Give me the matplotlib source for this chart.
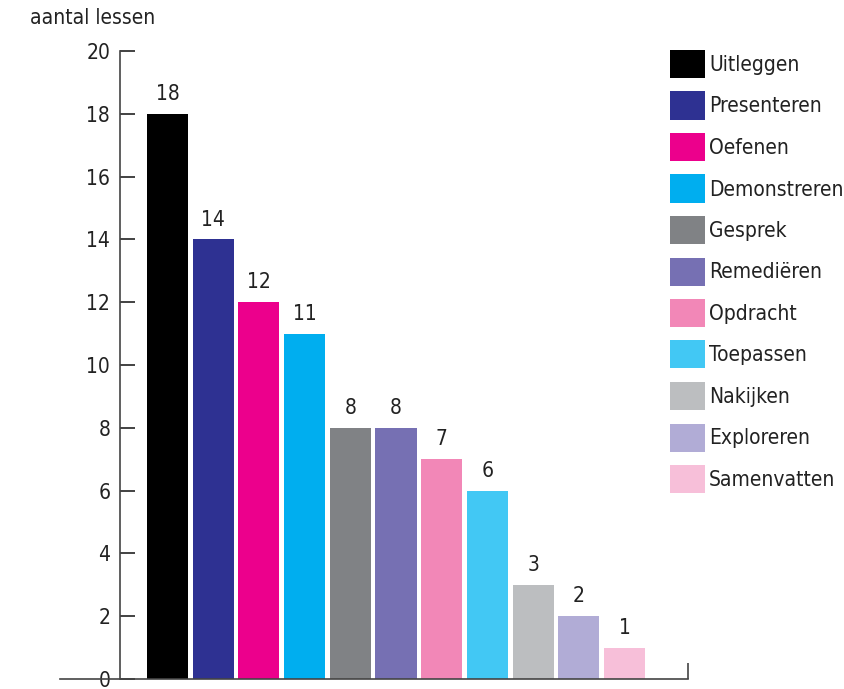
import matplotlib.pyplot as plt
from matplotlib.patches import Rectangle

categories = ['Uitleggen', 'Presenteren', 'Oefenen', 'Demonstreren', 'Gesprek',
              'Remediëren', 'Opdracht', 'Toepassen', 'Nakijken', 'Exploreren',
              'Samenvatten']
values = [18, 14, 12, 11, 8, 8, 7, 6, 3, 2, 1]
colors = ['#000000', '#2e3192', '#ec008c', '#00aeef', '#808285', '#7670b3',
          '#f287b7', '#42c8f4', '#bcbec0', '#b1acd6', '#f7bfd9']
yticks = list(range(0, 21, 2))

plt.rcParams['font.family'] = 'DejaVu Sans'
plt.rcParams['font.stretch'] = 'condensed'
fs = 15
txt_col = '#222222'

W, H = 845, 689
fig = plt.figure(figsize=(W / 100, H / 100), dpi=100)
ax = fig.add_axes([60 / W, 10 / H, 628 / W, 628 / H])

x = list(range(len(values)))
ax.bar(x, values, width=0.9, color=colors)
for xi, v in zip(x, values):
    ax.annotate(str(v), (xi, v), xytext=(0, 7), textcoords='offset points',
                ha='center', va='bottom', fontsize=fs, color=txt_col)

ax.set_xlim(-2.352, 11.39)
ax.set_ylim(0, 20)
ax.set_yticks(yticks)
ax.set_xticks([])

axis_col = '#444444'
for s in ['top', 'right']:
    ax.spines[s].set_visible(False)
ax.spines['left'].set_position(('data', -1.04))
ax.spines['left'].set_color(axis_col)
ax.spines['left'].set_linewidth(1.2)
ax.spines['bottom'].set_color(axis_col)
ax.spines['bottom'].set_linewidth(1.2)
ax.tick_params(axis='y', direction='in', length=11, width=1.2, color='#222222',
               pad=7, labelsize=fs, labelcolor=txt_col)

# small end tick at the right of the baseline
xr = ax.get_xlim()[1]
ax.vlines(xr, 0, 0.5, color=axis_col, lw=1.2, clip_on=False)

fig.text(30 / W, 1 - 18 / H, 'aantal lessen', fontsize=fs, color=txt_col,
         ha='left', va='center')

# legend drawn by hand to match the spacing of the original
row_h = 41.5
for i, (lab, c) in enumerate(zip(categories, colors)):
    top = 50 + i * row_h
    fig.patches.append(Rectangle((670 / W, 1 - (top + 28) / H), 35 / W, 28 / H,
                                 transform=fig.transFigure, facecolor=c,
                                 edgecolor='none'))
    fig.text(709 / W, 1 - (top + 15) / H, lab, fontsize=fs, color=txt_col,
             ha='left', va='center')

fig.savefig('out.png', dpi=100)
